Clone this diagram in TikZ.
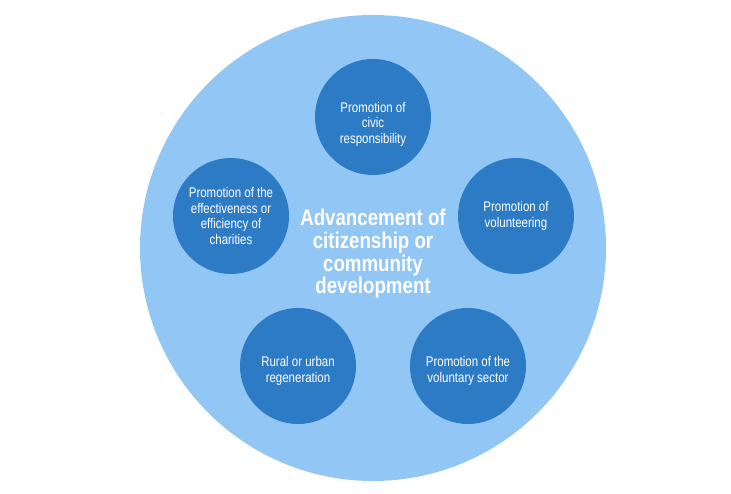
\documentclass[tikz,border=0pt]{standalone}
\usepackage{fontspec}
\setmainfont{Liberation Sans}[FakeStretch=0.82]
\definecolor{outerblue}{HTML}{92C6F4}
\definecolor{innerblue}{HTML}{2E7BC5}
\tikzset{
  topic/.style={circle, fill=innerblue, minimum size=116pt, inner sep=0pt},
  caption/.style={text=white, align=center, font=\fontsize{14}{15.5}\selectfont},
}
\begin{document}
\begin{tikzpicture}[x=1pt, y=-1pt]

  % Canvas
  \useasboundingbox (0,0) rectangle (731,494);

  % Outer circle
  \fill[outerblue] (373,248) circle (233);

  % Centre title
  \node[text=white, align=center, font=\bfseries\fontsize{22.8}{22.6}\selectfont] (main) at (373,254)
    {Advancement of\\citizenship or\\community\\development};

  % Five topics
  \node[topic] (civic) at (373,117) {};
  \node[topic] (volunteer) at (516,216) {};
  \node[topic] (charities) at (231,216) {};
  \node[topic] (rural) at (298,366) {};
  \node[topic] (sector) at (468,366) {};

  % Their texts (a little low in the top and bottom circles)
  \node[caption] (civic-text) at ([yshift=-7pt]civic.center) {Promotion of\\civic\\responsibility};
  \node[caption] (volunteer-text) at (volunteer.center) {Promotion of\\volunteering};
  \node[caption] (charities-text) at (charities.center) {Promotion of the\\effectiveness or\\efficiency of\\charities};
  \node[caption] (rural-text) at ([yshift=-5pt]rural.center) {Rural or urban\\regeneration};
  \node[caption] (sector-text) at ([yshift=-5pt]sector.center) {Promotion of the\\voluntary sector};
\end{tikzpicture}
\end{document}
